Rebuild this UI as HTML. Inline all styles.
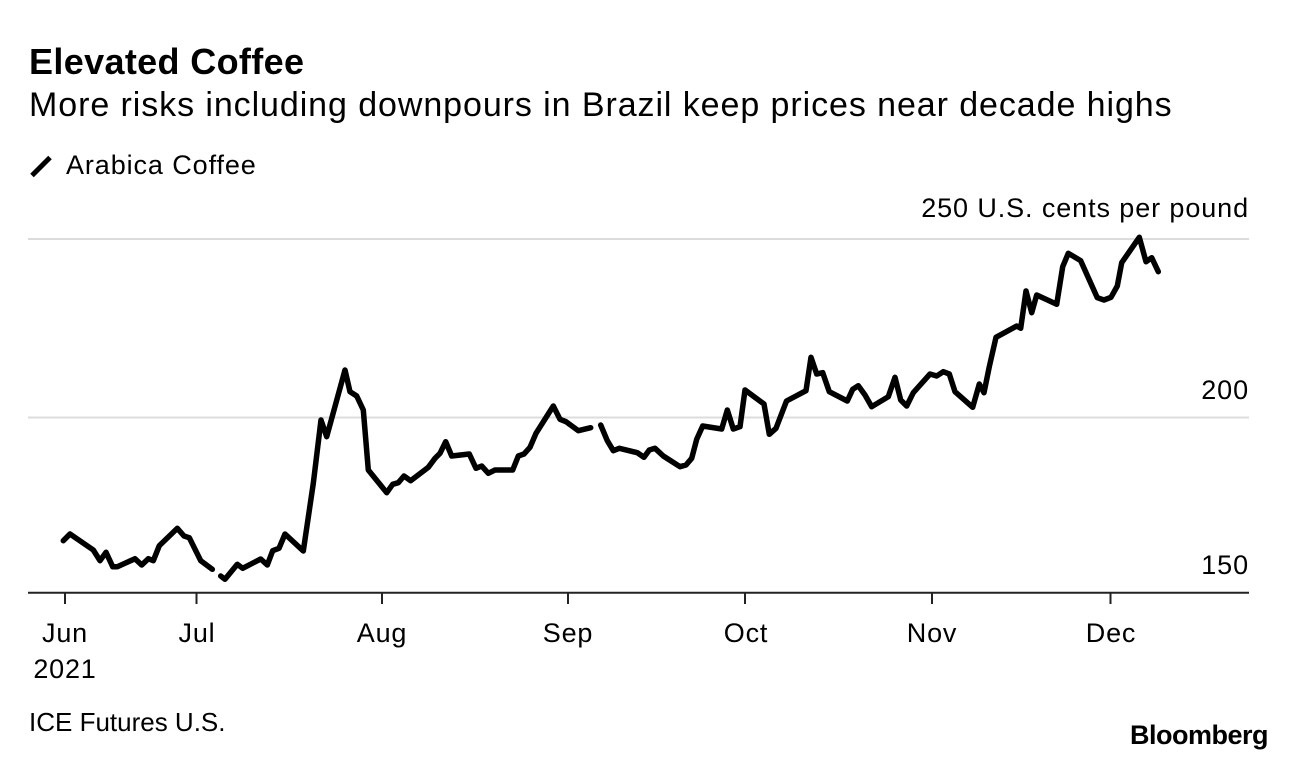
<!DOCTYPE html>
<html>
<head>
<meta charset="utf-8">
<style>
  html, body { margin:0; padding:0; background:#fff; }
  body { width:1296px; height:762px; overflow:hidden; }
  svg { display:block; }
  text { font-family: "Liberation Sans", Arial, sans-serif; fill:#000; }
</style>
</head>
<body>
<svg width="1296" height="762" viewBox="0 0 1296 762" xmlns="http://www.w3.org/2000/svg">
  <!-- Title block -->
  <text x="29" y="74" font-size="36" font-weight="bold" letter-spacing="0.35">Elevated Coffee</text>
  <text x="29" y="116" font-size="34" letter-spacing="0.92">More risks including downpours in Brazil keep prices near decade highs</text>

  <!-- Legend -->
  <line x1="32" y1="175.5" x2="50" y2="157.5" stroke="#000" stroke-width="5" stroke-linecap="butt"/>
  <text x="66" y="174" font-size="27" letter-spacing="0.9">Arabica Coffee</text>

  <!-- Gridlines -->
  <line x1="28" y1="239" x2="1249" y2="239" stroke="#dcdcdc" stroke-width="2"/>
  <line x1="28" y1="417.5" x2="1249" y2="417.5" stroke="#dcdcdc" stroke-width="2"/>

  <!-- Y labels -->
  <text x="1249" y="217" font-size="27" text-anchor="end" letter-spacing="0.9">250 U.S. cents per pound</text>
  <text x="1249" y="399" font-size="27" text-anchor="end" letter-spacing="0.9">200</text>
  <text x="1249" y="574" font-size="27" text-anchor="end" letter-spacing="0.9">150</text>

  <!-- X axis -->
  <line x1="28" y1="592.7" x2="1249" y2="592.7" stroke="#222" stroke-width="2"/>
  <g stroke="#222" stroke-width="2">
    <line x1="65" y1="592" x2="65" y2="604"/>
    <line x1="196.5" y1="592" x2="196.5" y2="604"/>
    <line x1="382" y1="592" x2="382" y2="604"/>
    <line x1="568" y1="592" x2="568" y2="604"/>
    <line x1="745" y1="592" x2="745" y2="604"/>
    <line x1="932" y1="592" x2="932" y2="604"/>
    <line x1="1110.5" y1="592" x2="1110.5" y2="604"/>
  </g>
  <g font-size="27" text-anchor="middle" letter-spacing="0.8">
    <text x="65" y="642">Jun</text>
    <text x="65" y="678">2021</text>
    <text x="197" y="642">Jul</text>
    <text x="382" y="642">Aug</text>
    <text x="568" y="642">Sep</text>
    <text x="746" y="642">Oct</text>
    <text x="932" y="642">Nov</text>
    <text x="1111" y="642">Dec</text>
  </g>

  <!-- Series -->
  <g fill="none" stroke="#000" stroke-width="5.5" stroke-linejoin="round" stroke-linecap="round">
    <polyline points="63.3,540.7 70,534 93.3,550 100,560.7 106,552.3 112.7,566.7 117.3,566.7 135,558.7 141.7,565 148.3,558.7 153.3,560.7 159.3,545.7 177.3,528.3 184,536 189.3,537.7 200.7,560.7 212.3,569.3"/>
    <polyline points="220.7,576 225,579.3 237.3,564.3 242.7,568.3 260.7,559 267.3,565 272.7,550.7 279,548.3 285,534 303.3,551 313.3,483.3 321,420 326.7,436.7 345,370 350,391.7 356.7,396 363.3,410 368.3,470 386.7,492.7 392.7,484.3 398.3,482.7 404,476 410.7,480.7 428.3,467.3 435,458.3 440,453.3 445.7,441.7 451.7,456 469.3,454 476,468.3 481.7,466 488.3,473.3 495,470 512.7,470 518.3,456 524,454 530,447.3 536,433.3 553.3,406 560,419.3 566,421.7 578.3,430.7 590.7,427.7"/>
    <polyline points="600.7,425 607.3,440.7 613.3,450.7 619.3,448.3 637.3,452.7 644,457.3 649.3,450 655,448.3 663.3,456 680,466.7 686,465 691.7,458.3 696.7,439.3 702.7,426 721.7,429 727.3,410 733.3,429 740,426.7 745,390 764,404 769.3,434.3 776,428.3 786.5,401 806,390.7 811,357.3 816.7,374 822.7,372.7 829.3,391.7 847.3,401 852.7,389.3 858.3,385.7 865,395 871.7,406.7 888.3,396.7 895,377.3 900.7,400 906.7,406 913.3,392.7 930,374 936.7,376 943.3,371.7 949.3,374 955,391.7 972.7,407.3 979.3,384 984,392.7 989.3,366.7 996,337.3 1016.7,326 1020.7,328.3 1026,291 1031.7,312.7 1036.7,295 1056.7,304.3 1062.7,266.7 1068.3,253.3 1080.7,260.7 1097.3,297.7 1104,300 1111,297.3 1117.3,286 1121.7,262.7 1139.3,237.3 1146,261.7 1151.7,257.7 1158.3,271.7"/>
  </g>

  <!-- Footer -->
  <text x="29" y="731" font-size="26" letter-spacing="0">ICE Futures U.S.</text>
  <text x="1268" y="744" font-size="27" font-weight="bold" text-anchor="end" letter-spacing="-0.5">Bloomberg</text>
</svg>
</body>
</html>
